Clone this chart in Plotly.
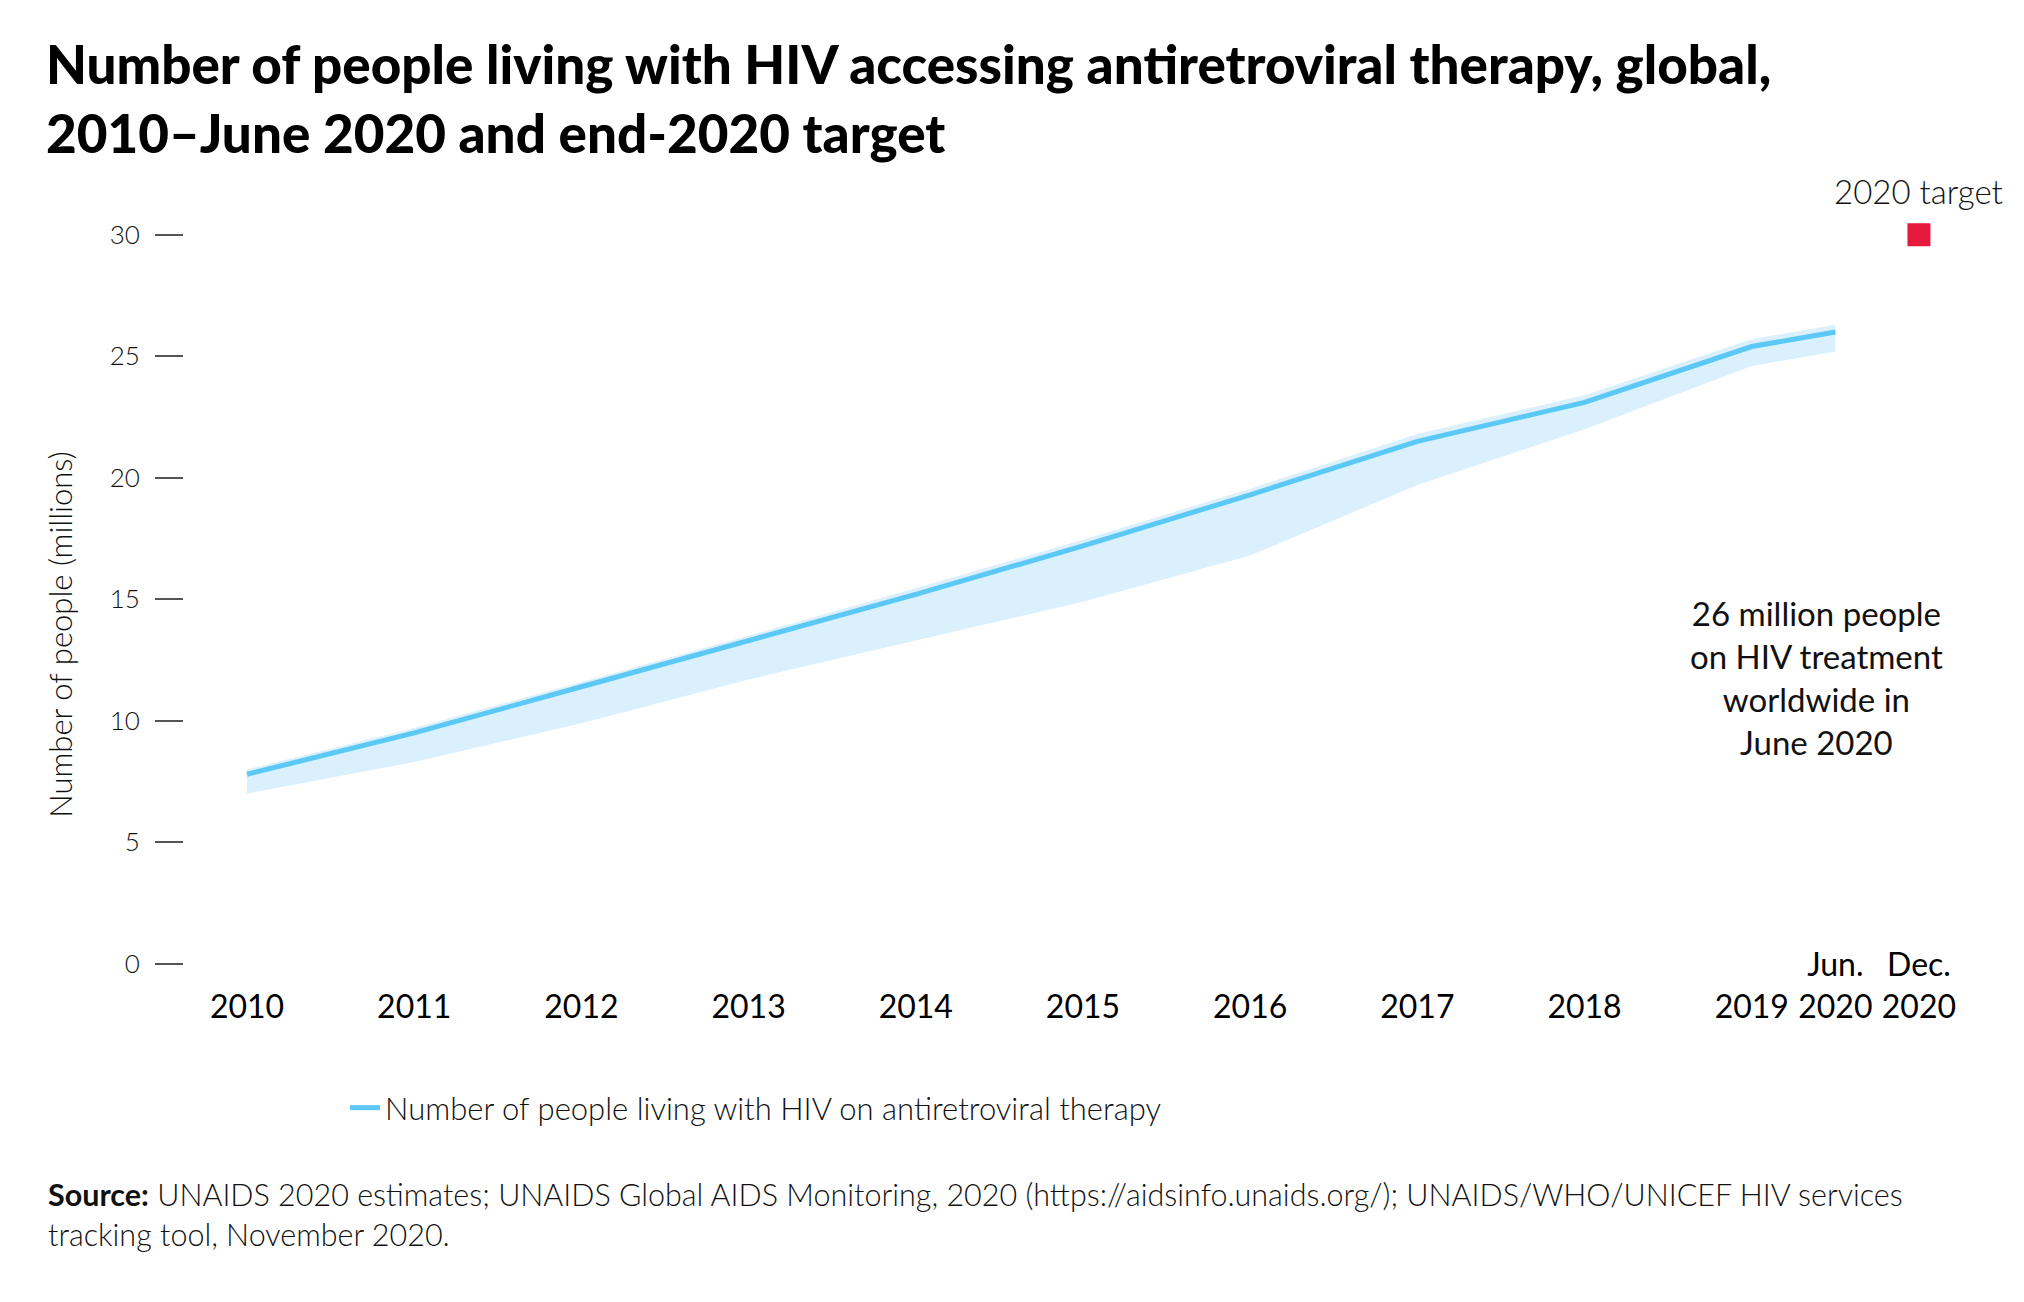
import plotly.graph_objects as go

# ---- data ----
years = [2010, 2011, 2012, 2013, 2014, 2015, 2016, 2017, 2018, 2019, 2019.5]
art_people = [7.8, 9.5, 11.4, 13.3, 15.2, 17.2, 19.3, 21.5, 23.1, 25.4, 26.0]
art_upper = [8.0, 9.7, 11.6, 13.5, 15.45, 17.45, 19.55, 21.8, 23.4, 25.7, 26.3]
art_lower = [7.0, 8.3, 9.9, 11.7, 13.3, 14.9, 16.8, 19.7, 22.0, 24.6, 25.2]
target_x = [2020]
target_y = [30]
tick_vals = [2010, 2011, 2012, 2013, 2014, 2015, 2016, 2017, 2018, 2019, 2019.5, 2020]
tick_text = [" <br>2010", " <br>2011", " <br>2012", " <br>2013", " <br>2014", " <br>2015",
             " <br>2016", " <br>2017", " <br>2018", " <br>2019", "Jun.<br>2020", "Dec.<br>2020"]
y_ticks = [0, 5, 10, 15, 20, 25, 30]

LINE = "#5BC8F5"
BAND = "#DAF0FC"
RED = "#E4193B"
FONT = "Lato"

W, H = 2016, 1294  # page has an 8px body margin
PLOT_TOP, PLOT_BOTTOM = 200, 1083  # page pixels


def cx(px):
    return (px - 8) / W


def cy(py):
    return 1 - (py - 8) / H


def py_paper(py):
    return -(py - PLOT_BOTTOM) / (PLOT_BOTTOM - PLOT_TOP)


fig = go.Figure()
fig.add_trace(go.Scatter(x=years, y=art_upper, mode="lines", line=dict(width=0, color=BAND),
                         showlegend=False, hoverinfo="skip"))
fig.add_trace(go.Scatter(x=years, y=art_lower, mode="lines", line=dict(width=0, color=BAND),
                         fill="tonexty", fillcolor=BAND, showlegend=False, hoverinfo="skip"))
fig.add_trace(go.Scatter(x=years, y=art_people, mode="lines",
                         line=dict(width=5, color=LINE),
                         name="Number of people living with HIV on antiretroviral therapy"))
fig.add_trace(go.Scatter(x=target_x, y=target_y, mode="markers",
                         marker=dict(symbol="square", size=23, color=RED),
                         showlegend=False))

fig.add_annotation(x=target_x[0], y=target_y[0], text="2020 target", showarrow=False,
                   xanchor="center", yanchor="middle", yshift=44,
                   font=dict(family=FONT, size=33, color="#111", weight=300))
fig.add_annotation(x=2019.39, y=11.8, text="26 million people<br>on HIV treatment<br>worldwide in<br>June 2020",
                   showarrow=False, xanchor="center", yanchor="middle", align="center",
                   font=dict(family=FONT, size=33, color="#111", weight=400))
fig.add_annotation(xref="paper", yref="paper", x=(46 - 184) / 1806, y=py_paper(1190),
                   xanchor="left", yanchor="top", align="left", showarrow=False,
                   text="<b>Source:</b> UNAIDS 2020 estimates; UNAIDS Global AIDS Monitoring, 2020 (https://aidsinfo.unaids.org/); UNAIDS/WHO/UNICEF HIV services<br>tracking tool, November 2020.",
                   font=dict(family=FONT, size=30.5, color="#111", weight=300))

fig.update_layout(
    width=W, height=H,
    margin=dict(l=176, r=34, t=PLOT_TOP - 8, b=1302 - PLOT_BOTTOM),
    paper_bgcolor="white", plot_bgcolor="white",
    title=dict(text="Number of people living with HIV accessing antiretroviral therapy, global,<br>2010–June 2020 and end-2020 target",
               x=cx(46), xanchor="left", xref="container", y=cy(84), yanchor="top", yref="container",
               font=dict(family=FONT, size=53, color="black", weight=900)),
    showlegend=True,
    legend=dict(orientation="h", xref="container", yref="container", x=cx(345), y=cy(1108),
                xanchor="left", yanchor="middle",
                font=dict(family=FONT, size=31, color="#111", weight=300)),
    xaxis=dict(range=[2009.623, 2020.425], tickvals=tick_vals, ticktext=tick_text,
               showgrid=False, zeroline=False, showline=False, ticks="",
               ticklabelstandoff=-126,
               tickfont=dict(family=FONT, size=32, color="black", weight=400)),
    yaxis=dict(range=[-4.33, 31.43], tickvals=y_ticks, showgrid=False, zeroline=False, showline=False,
               ticks="outside", ticklen=28, tickwidth=2, tickcolor="#555",
               ticklabelstandoff=10,
               tickfont=dict(family=FONT, size=26, color="#111", weight=300),
               title=dict(text="Number of people (millions)", standoff=27,
                          font=dict(family=FONT, size=31, color="#111", weight=300))),
)

fig.write_html("out.html")
